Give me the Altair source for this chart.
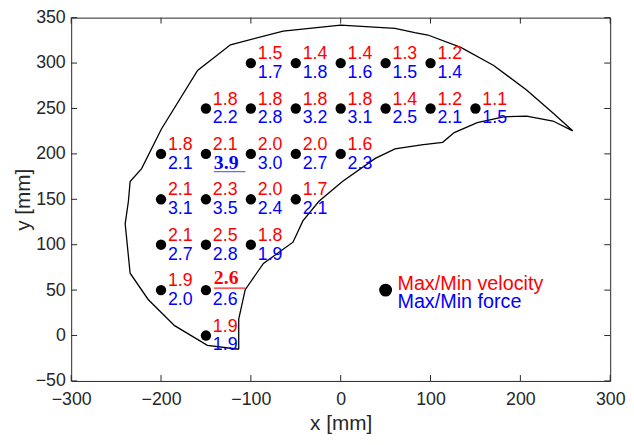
import altair as alt
import pandas as pd

# ---- grid of measurement points ----
pt_x = [-100, -50, 0, 50, 100,
        -150, -100, -50, 0, 50, 100, 150,
        -200, -150, -100, -50, 0,
        -200, -150, -100, -50,
        -200, -150, -100,
        -200, -150,
        -150]
pt_y = [300, 300, 300, 300, 300,
        250, 250, 250, 250, 250, 250, 250,
        200, 200, 200, 200, 200,
        150, 150, 150, 150,
        100, 100, 100,
        50, 50,
        0]
velocity = ["1.5", "1.4", "1.4", "1.3", "1.2",
            "1.8", "1.8", "1.8", "1.8", "1.4", "1.2", "1.1",
            "1.8", "2.1", "2.0", "2.0", "1.6",
            "2.1", "2.3", "2.0", "1.7",
            "2.1", "2.5", "1.8",
            "1.9", "2.6",
            "1.9"]
force = ["1.7", "1.8", "1.6", "1.5", "1.4",
         "2.2", "2.8", "3.2", "3.1", "2.5", "2.1", "1.5",
         "2.1", "3.9", "3.0", "2.7", "2.3",
         "3.1", "3.5", "2.4", "2.1",
         "2.7", "2.8", "1.9",
         "2.0", "2.6",
         "1.9"]
vel_max = [False] * 27
vel_max[25] = True
force_max = [False] * 27
force_max[13] = True

# ---- workspace outline (closed curve) ----
outline_x = [-113.5, -148.4, -184.9, -214.3, -234.4, -239.9, -236.3, -234.4, -221.6,
             -199.7, -159.3, -122.7, -64.1, 0.0, 60.4, 82.4, 97.0, 133.7, 170.3,
             206.9, 236.3, 258.2,
             236.3, 206.9, 181.3, 152.0, 126.4, 113.5, 89.8, 60.4, 38.5, 1.9,
             -24.2, -42.1, -53.1, -86.0, -106.3, -113.5, -113.5]
outline_y = [-15.1, -10.8, 10.9, 39.7, 68.6, 123.0, 147.8, 169.5, 183.8,
             227.1, 291.9, 320.1, 335.2, 341.7, 338.1, 333.5, 330.9, 317.2, 297.4,
             270.3, 245.1, 225.4,
             236.2, 241.6, 240.8, 234.3, 223.5, 212.7, 209.8, 205.5, 195.0, 169.5,
             147.8, 126.2, 102.8, 79.4, 50.5, 18.1, -15.1]

# ---- legend ----
legend_x = [50]
legend_y = [50]
legend_vel = ["Max/Min velocity"]
legend_force = ["Max/Min force"]

# ---- axes ----
x_ticks = [-300, -200, -100, 0, 100, 200, 300]
y_ticks = [-50, 0, 50, 100, 150, 200, 250, 300, 350]

W, H = 546, 368
FRAME = "#262626"

pts = pd.DataFrame({"x": pt_x, "y": pt_y, "vel": velocity, "force": force,
                    "vmax": vel_max, "fmax": force_max})
outline = pd.DataFrame({"x": outline_x, "y": outline_y, "i": range(len(outline_x))})
legend = pd.DataFrame({"x": legend_x, "y": legend_y, "v": legend_vel, "f": legend_force})
xt = pd.DataFrame({"x": x_ticks})
yt = pd.DataFrame({"y": y_ticks})

X = alt.X("x:Q", scale=alt.Scale(domain=[-300, 300], nice=False, zero=False),
          axis=alt.Axis(values=x_ticks, title="x [mm]", ticks=False, domain=False, grid=False,
                        labelFlush=False, labelOverlap=False,
                        labelPadding=10, titlePadding=4, labelFontSize=18, titleFontSize=21,
                        labelColor=FRAME, titleColor=FRAME, titleFontWeight="normal"))
Y = alt.Y("y:Q", scale=alt.Scale(domain=[-50, 350], nice=False, zero=False),
          axis=alt.Axis(values=y_ticks, title="y [mm]", ticks=False, domain=False, grid=False,
                        labelFlush=False, labelOverlap=False,
                        labelPadding=6, titlePadding=2, labelFontSize=18, titleFontSize=21,
                        labelColor=FRAME, titleColor=FRAME, titleFontWeight="normal"))

line = alt.Chart(outline).mark_line(color="black", strokeWidth=1.3).encode(
    x=X, y=Y, order=alt.Order("i:Q"))

dots = alt.Chart(pts).mark_circle(size=110, color="black", opacity=1).encode(x=X, y=Y)

base_txt = alt.Chart(pts)
red = base_txt.transform_filter("!datum.vmax").mark_text(
    align="left", baseline="alphabetic", dx=7, dy=-4, color="#ff0000",
    fontSize=18, font="Liberation Sans").encode(x=X, y=Y, text="vel:N")
blue = base_txt.transform_filter("!datum.fmax").mark_text(
    align="left", baseline="alphabetic", dx=7, dy=15, color="#0000ff",
    fontSize=18, font="Liberation Sans").encode(x=X, y=Y, text="force:N")
red_b = base_txt.transform_filter("datum.vmax").mark_text(
    align="left", baseline="alphabetic", dx=8, dy=-6, color="#ff0000",
    fontSize=20, font="Liberation Serif", fontWeight="bold").encode(x=X, y=Y, text="vel:N")
blue_b = base_txt.transform_filter("datum.fmax").mark_text(
    align="left", baseline="alphabetic", dx=8, dy=15, color="#0000ff",
    fontSize=20, font="Liberation Serif", fontWeight="bold").encode(x=X, y=Y, text="force:N")
red_u = base_txt.transform_filter("datum.vmax").mark_rule(
    color="#ff2020", strokeWidth=1.2, xOffset=8, x2Offset=40, yOffset=-2, y2Offset=-2).encode(
    x=X, y=Y, x2="x:Q", y2="y:Q")
blue_u = base_txt.transform_filter("datum.fmax").mark_rule(
    color="#6a6aff", strokeWidth=1.2, xOffset=8, x2Offset=40, yOffset=18, y2Offset=18).encode(
    x=X, y=Y, x2="x:Q", y2="y:Q")

leg_dot = alt.Chart(legend).mark_circle(size=170, color="black", opacity=1).encode(x=X, y=Y)
leg_v = alt.Chart(legend).mark_text(align="left", baseline="alphabetic", dx=12, dy=0,
                                    color="#ff0000", fontSize=20, font="Liberation Sans").encode(
    x=X, y=Y, text="v:N")
leg_f = alt.Chart(legend).mark_text(align="left", baseline="alphabetic", dx=12, dy=18,
                                    color="#0000ff", fontSize=20, font="Liberation Sans").encode(
    x=X, y=Y, text="f:N")

tick_b = alt.Chart(xt).mark_rule(color=FRAME, strokeWidth=1).encode(
    x=X, y=alt.value(H), y2=alt.value(H - 6))
tick_t = alt.Chart(xt).mark_rule(color=FRAME, strokeWidth=1).encode(
    x=X, y=alt.value(0), y2=alt.value(6))
tick_l = alt.Chart(yt).mark_rule(color=FRAME, strokeWidth=1).encode(
    y=Y, x=alt.value(0), x2=alt.value(6))
tick_r = alt.Chart(yt).mark_rule(color=FRAME, strokeWidth=1).encode(
    y=Y, x=alt.value(W), x2=alt.value(W - 6))

chart = alt.layer(line, tick_b, tick_t, tick_l, tick_r, dots, red, blue, red_b, blue_b,
                  red_u, blue_u, leg_dot, leg_v, leg_f).properties(
    width=W, height=H, autosize="none",
    padding={"left": 64, "top": 7, "right": 16, "bottom": 54},
).configure_view(stroke=FRAME, strokeWidth=1).configure_axis(
    labelFont="Liberation Sans", titleFont="Liberation Sans")

chart.save("out.html", embed_options={"renderer": "svg", "actions": False})
